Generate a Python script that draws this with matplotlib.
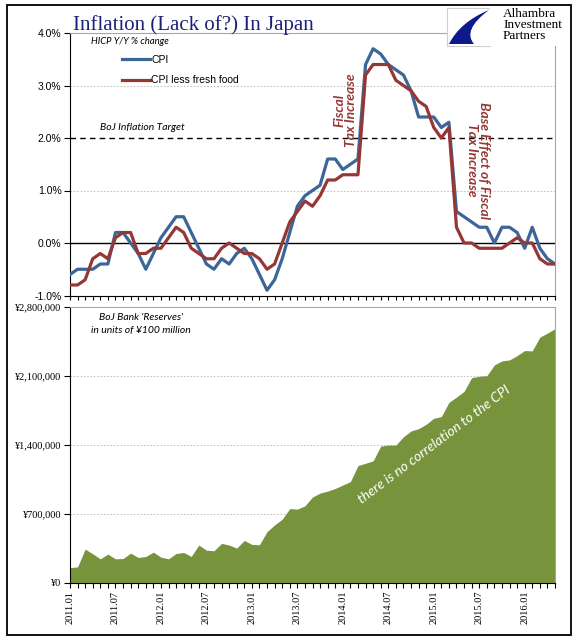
import matplotlib
matplotlib.use('Agg')
import matplotlib.pyplot as plt
from matplotlib.patches import Rectangle, PathPatch
from matplotlib.path import Path

# monthly categories 2011.01 .. 2016.05
months = [f'{y}.{m:02d}' for y in range(2011, 2017) for m in range(1, 13)][:65]

# CPI y/y %, all items
cpi = [-0.6, -0.5, -0.5, -0.5, -0.4, -0.4, 0.2, 0.2, 0.0, -0.2, -0.5, -0.2,
       0.1, 0.3, 0.5, 0.5, 0.2, -0.1, -0.4, -0.5, -0.3, -0.4, -0.2, -0.1,
       -0.3, -0.6, -0.9, -0.7, -0.3, 0.2, 0.7, 0.9, 1.0, 1.1, 1.6, 1.6,
       1.4, 1.5, 1.6, 3.4, 3.7, 3.6, 3.4, 3.3, 3.2, 2.9, 2.4, 2.4,
       2.4, 2.2, 2.3, 0.6, 0.5, 0.4, 0.3, 0.3, 0.0, 0.3, 0.3, 0.2,
       -0.1, 0.3, -0.1, -0.3, -0.4]

# CPI less fresh food y/y %
core = [-0.8, -0.8, -0.7, -0.3, -0.2, -0.3, 0.1, 0.2, 0.2, -0.2, -0.2, -0.1,
        -0.1, 0.1, 0.3, 0.2, -0.1, -0.2, -0.3, -0.3, -0.1, 0.0, -0.1, -0.2,
        -0.2, -0.3, -0.5, -0.4, 0.0, 0.4, 0.6, 0.8, 0.7, 0.9, 1.2, 1.2,
        1.3, 1.3, 1.3, 3.2, 3.4, 3.4, 3.4, 3.1, 3.0, 2.9, 2.7, 2.6,
        2.2, 2.0, 2.2, 0.3, 0.0, 0.0, -0.1, -0.1, -0.1, -0.1, 0.0, 0.1,
        0.0, 0.0, -0.3, -0.4, -0.4]

# BoJ current account balances, units of 100 million yen
reserves = [156000, 163000, 344000, 296000, 245000, 293000, 245000, 248000, 303000, 259000, 269000, 313000,
            262000, 245000, 299000, 310000, 269000, 385000, 333000, 327000, 402000, 385000, 354000, 432000,
            391000, 388000, 521000, 589000, 647000, 755000, 749000, 783000, 872000, 912000, 932000, 959000,
            994000, 1028000, 1191000, 1215000, 1239000, 1389000, 1399000, 1399000, 1484000, 1542000, 1566000, 1610000,
            1671000, 1688000, 1832000, 1886000, 1944000, 2083000, 2097000, 2103000, 2212000, 2253000, 2263000, 2307000,
            2358000, 2355000, 2494000, 2535000, 2579000]

pct_ticks = [-1, 0, 1, 2, 3, 4]
pct_labels = ['-1.0%', '0.0%', '1.0%', '2.0%', '3.0%', '4.0%']
res_ticks = [0, 700000, 1400000, 2100000, 2800000]
res_labels = ['¥0', '¥700,000', '¥1,400,000', '¥2,100,000', '¥2,800,000']

W, H = 577, 641
BLUE = '#3b6697'
RED = '#953735'
GREEN = '#77933c'
GREY = '#a6a6a6'


def fx(x):
    return x / W


def fy(y):
    return 1 - y / H


def rect(l, t, r, b):
    return [l / W, 1 - b / H, (r - l) / W, (b - t) / H]


fig = plt.figure(figsize=(W / 100, H / 100), dpi=100)
x = list(range(len(months)))

# ---- top panel: CPI
ax1 = fig.add_axes(rect(70, 33, 555, 295.5))
ax1.set_xlim(0, len(months) - 1)
ax1.set_ylim(-1, 4)
for v in (1, 3):
    ax1.axhline(v, color='#b8b8b8', lw=0.6, ls=(0, (2, 2)), zorder=1)
ax1.axhline(2, color='black', lw=1.0, ls=(0, (4, 3)), zorder=1)
ax1.axhline(0, color='black', lw=1.0, zorder=1)
ax1.plot(x, cpi, color=BLUE, lw=2.3, label='CPI', zorder=3)
ax1.plot(x, core, color=RED, lw=2.3, label='CPI less fresh food', zorder=4)
ax1.set_yticks(pct_ticks, pct_labels, family='Liberation Sans', fontsize=7.5)
ax1.set_xticks(x, [''] * len(x))
ax1.tick_params(axis='y', direction='out', length=4, width=0.8, pad=2)
ax1.tick_params(axis='x', direction='out', length=3, width=0.8)
for s in ('top', 'right'):
    ax1.spines[s].set_color(GREY)
for s in ('left', 'bottom'):
    ax1.spines[s].set_color('black')
ax1.legend(loc='upper left', bbox_to_anchor=(fx(122), fy(55)), bbox_transform=fig.transFigure,
           frameon=False, borderpad=0, borderaxespad=0, handlelength=2.7, handletextpad=0.1,
           labelspacing=1.0, prop={'family': 'Liberation Sans', 'size': 7.5})

# ---- bottom panel: reserves
ax2 = fig.add_axes(rect(70, 307, 555, 583))
ax2.set_xlim(0, len(months) - 1)
ax2.set_ylim(0, 2800000)
for v in res_ticks[1:-1]:
    ax2.axhline(v, color='#b8b8b8', lw=0.6, ls=(0, (2, 2)), zorder=1)
ax2.fill_between(x, reserves, color=GREEN, lw=0, zorder=2)
ax2.set_yticks(res_ticks, res_labels, family='Liberation Serif', fontsize=7.5)
ax2.set_xticks(x, [m if i % 6 == 0 else '' for i, m in enumerate(months)],
               rotation=90, family='Liberation Serif', fontsize=7.5)
ax2.tick_params(axis='y', direction='out', length=4, width=0.8, pad=2)
ax2.tick_params(axis='x', direction='out', length=3.5, width=0.8, pad=2)
for s in ('top', 'right'):
    ax2.spines[s].set_color(GREY)
for s in ('left', 'bottom'):
    ax2.spines[s].set_color('black')

# ---- texts
fig.text(fx(73), fy(30), 'Inflation (Lack of?) In Japan', family='Liberation Serif',
         size=15, color='#1c2279', va='baseline', ha='left')
fig.text(fx(91), fy(42), 'HICP Y/Y % change', family='Lato', style='italic',
         size=6.8, va='center', ha='left')
fig.text(fx(100), fy(128), 'BoJ Inflation Target', family='Lato', style='italic',
         size=7.5, va='center', ha='left')
fig.text(fx(345), fy(110), 'Fiscal\nTax Increase', family='Lato', style='italic', weight='bold',
         size=10, color=RED, rotation=90, ha='center', va='center', linespacing=1.0)
fig.text(fx(478), fy(160), 'Base Effect of Fiscal\nTax Increase', family='Lato', style='italic',
         weight='bold', size=10, color=RED, rotation=-90, ha='center', va='center', linespacing=1.0)
fig.text(fx(141), fy(324), "BoJ Bank 'Reserves'\nin units of ¥100 million", family='Lato',
         style='italic', size=7.5, ha='center', va='center', linespacing=1.45)
fig.text(fx(434), fy(445), 'there is no correlation to the CPI', family='Lato', style='italic',
         size=10, color='white', rotation=37, rotation_mode='anchor', ha='center', va='center')

# ---- logo
fig.add_artist(Rectangle((fx(447), fy(46)), 43 / W, 38 / H, transform=fig.transFigure,
                         facecolor='white', edgecolor='#cfcfcf', lw=0.8, zorder=5))
fig.add_artist(Rectangle((fx(490), fy(46)), 80 / W, 38 / H, transform=fig.transFigure,
                         facecolor='white', edgecolor='none', zorder=5))
verts = [(489, 10), (460, 22), (449, 44), (474, 44), (462, 30), (489, 10)]
codes = [Path.MOVETO, Path.CURVE3, Path.CURVE3, Path.LINETO, Path.CURVE3, Path.CURVE3]
logo = Path([(fx(a), fy(b)) for a, b in verts], codes)
fig.add_artist(PathPatch(logo, transform=fig.transFigure, facecolor='#0d1a8c', edgecolor='none', zorder=6))
fig.text(fx(503), fy(8), 'Alhambra\nInvestment\nPartners', family='Liberation Serif', size=9.5,
         va='top', ha='left', linespacing=0.9, zorder=6)

# outer frame
fig.add_artist(Rectangle((fx(7), fy(635)), 564 / W, 630 / H, transform=fig.transFigure,
                         fill=False, edgecolor='black', lw=1.3, zorder=7))

fig.savefig('out.png', dpi=100)
